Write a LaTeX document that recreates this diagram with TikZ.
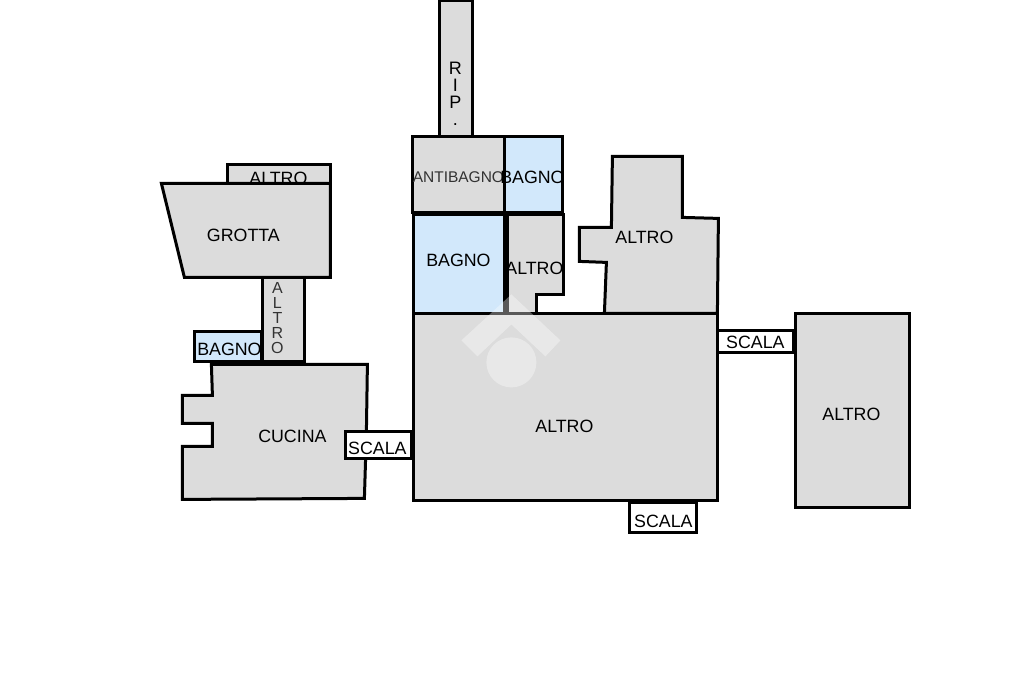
\documentclass[tikz,border=0pt]{standalone}
\usepackage{fontspec}
\setmainfont{Liberation Sans}
\definecolor{roomgray}{HTML}{DCDCDC}
\definecolor{roomblue}{HTML}{D2E8FB}
\tikzset{
  room/.style={draw=black,line width=3pt,fill=roomgray,line join=miter},
  wet/.style={room,fill=roomblue},
  stair/.style={room,fill=white},
  wall/.style={draw=black,line width=3pt,line join=miter},
  lab/.style={font=\fontsize{17.8}{17.8}\selectfont,inner sep=0pt,text=black},
  lightlab/.style={font=\fontsize{15.5}{15.5}\selectfont,inner sep=0pt,text=black!80},
  stack/.style={align=center,inner sep=0pt},
  wmark/.style={fill=white,fill opacity=.35,draw=none}
}
\begin{document}
\begin{tikzpicture}[x=1pt,y=-1pt]
\useasboundingbox (0,0) rectangle (1024,682);
\begin{scope}[shift={(-0.6,-0.6)}]
% left wing
\draw[room] (228,165) rectangle (331,190);
\node[lab] (l1) at (279,179) {ALTRO};
\draw[room] (162,184) -- (331,184) -- (331,278) -- (185,278) -- cycle;
\node[lab] (l2) at (244,236) {GROTTA};
\draw[wet] (195,332) rectangle (262,362);
\node[lab] (l3) at (230,350) {BAGNO};
\draw[room] (263,278) rectangle (305,362);
\node[lightlab,stack,font=\fontsize{16}{15}\selectfont] (l4) at (278,318.5) {A\\L\\T\\R\\O};
\draw[room] (212,365) -- (368,365) -- (367,432) -- (365,499) -- (183,500) -- (183,447) -- (213,447) -- (213,424) -- (183,424) -- (183,396) -- (213,396) -- cycle;
\node[lab] (l5) at (293,437) {CUCINA};
\draw[stair] (346,432) rectangle (412,459);
\node[lab] (l6) at (378,449) {SCALA};
% central block
\draw[room] (440,1) rectangle (473,137);
\node[stack,font=\fontsize{18}{17}\selectfont] (l7) at (456,94.5) {R\\I\\P\\.};
\draw[room] (413,137) rectangle (505,213);
\node[lightlab] (l8) at (459,178) {ANTIBAGNO};
\draw[wet] (505,137) rectangle (563,213);
\node[lab] (l9) at (533,178) {BAGNO};
\draw[wall] (505,137) rectangle (563,213);
\draw[wet] (414,215) rectangle (505,314);
\node[lab] (l10) at (459,261) {BAGNO};
\draw[room] (508,215) -- (564,215) -- (564,295) -- (537,295) -- (537,314) -- (508,314) -- cycle;
\node[lab] (l11) at (535,269) {ALTRO};
\draw[wall] (564,215) -- (564,295);
\draw[draw=black,line width=5pt] (507,215) -- (507,314);
\draw[room] (613,157) -- (683,157) -- (683,218) -- (719,219) -- (718,314) -- (605,314) -- (607,263) -- (580,262) -- (580,228) -- (612,228) -- cycle;
\node[lab] (l12) at (645,238) {ALTRO};
\draw[room] (414,314) rectangle (718,501);
\node[lab] (l13) at (565,427) {ALTRO};
\draw[stair] (718,331) rectangle (794,353);
\node[lab] (l14) at (756,343) {SCALA};
\draw[stair] (630,503) rectangle (697,533);
\node[lab] (l15) at (664,522) {SCALA};
\draw[room] (796,314) rectangle (910,508);
\node[lab] (l16) at (852,415) {ALTRO};
% watermark
\fill[wmark] (512,295) -- (561,341) -- (546,357) -- (512,325) -- (478,357) -- (462,341) -- cycle;
\fill[wmark] (512,363) circle (25);
\end{scope}
\end{tikzpicture}
\end{document}
